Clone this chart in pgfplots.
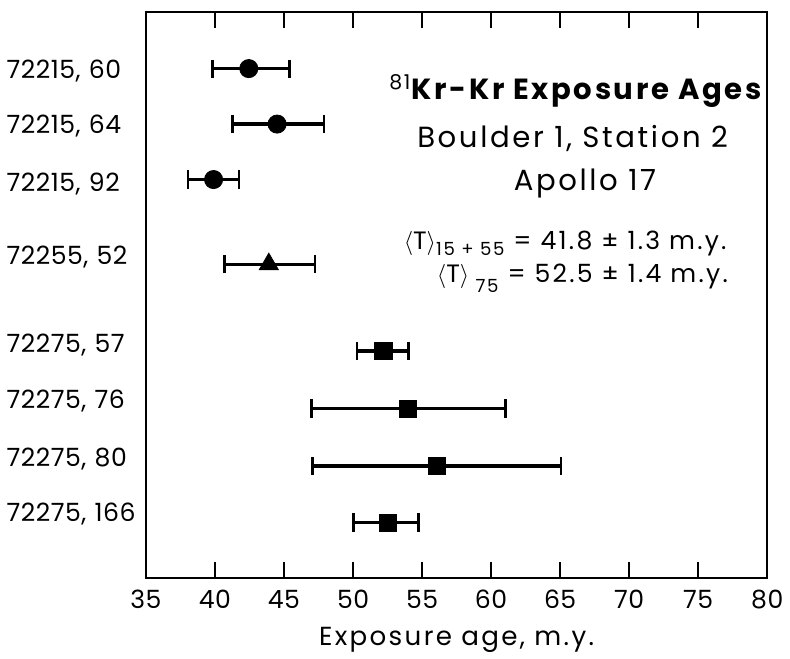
\documentclass[border=0pt]{standalone}
\usepackage{pgfplots}
\pgfplotsset{compat=1.18}
\usepackage{pgfplotstable}
\usepackage{fontspec}
\setmainfont{Poppins}[LetterSpace=9]
\newfontfamily\tickfont{Poppins}[LetterSpace=2]
\pgfplotstableread{
x y ep em
42.45 68 2.95 2.65
44.5 123 3.4 3.25
39.9 178 1.85 1.85
}\circdata
\pgfplotstableread{
x y ep em
43.9 262 3.35 3.2
}\tridata
\pgfplotstableread{
x y ep em
52.2 348 1.8 1.9
54.0 405 7.05 7.0
56.1 462 8.97 9.05
52.5 518 2.25 2.45
}\sqdata
\begin{document}
\begin{tikzpicture}
\begin{axis}[
 scale only axis, width=308bp, height=280.5bp,
 xmin=35, xmax=80, ymin=12, ymax=573, y dir=reverse,
 xtick={35,40,...,80}, xtick pos=both, xticklabel pos=bottom,
 tick align=inside, major tick length=8bp,
 x tick style={line width=0.8pt,black},
 xticklabel style={yshift=-2.5bp},
 ytick={70,125,182,255,342,398,455,510},
 yticklabels={{72215, 60},{72215, 64},{72215, 92},{72255, 52},{72275, 57},{72275, 76},{72275, 80},{72275, 166}},
 y tick style={draw=none},
 yticklabel style={text width=67bp, align=left, xshift=1.5bp},
 /pgf/number format/assume math mode=true,
 ticklabel style={font=\tickfont\fontsize{12.5}{14}\selectfont},
 xlabel={Exposure age, m.y.},
 xlabel style={font=\fontsize{13}{15}\selectfont, yshift=-2bp},
 axis line style={line width=1pt},
 clip=false,
]
\addplot[only marks, mark=*, mark size=4.5bp, black,
  error bars/.cd, x dir=both, x explicit,
  error bar style={line width=1.7pt},
  error mark options={rotate=90, mark size=4.5bp, line width=1.3pt}]
  table[x=x, y=y, x error plus=ep, x error minus=em] {\circdata};
\addplot[only marks, mark=triangle*, mark size=5.5bp, black,
  error bars/.cd, x dir=both, x explicit,
  error bar style={line width=1.7pt},
  error mark options={rotate=90, mark size=4.5bp, line width=1.3pt}]
  table[x=x, y=y, x error plus=ep, x error minus=em] {\tridata};
\addplot[only marks, mark=square*, mark size=4.25bp, black,
  error bars/.cd, x dir=both, x explicit,
  error bar style={line width=1.7pt},
  error mark options={rotate=90, mark size=4.5bp, line width=1.3pt}]
  table[x=x, y=y, x error plus=ep, x error minus=em] {\sqdata};
\node[font=\fontsize{14.5}{16}\selectfont\bfseries] at (axis cs:66.1,90) {\textsuperscript{\mdseries 81}Kr-Kr Exposure Ages};
\node[font=\fontsize{14.5}{16}\selectfont] at (axis cs:65.9,137) {Boulder 1, Station 2};
\node[font=\fontsize{14.5}{16}\selectfont] at (axis cs:66.8,182) {Apollo 17};
\node[font=\fontsize{12.5}{14}\selectfont, anchor=west, inner sep=1bp] at (axis cs:53.5,241) {$\langle$T$\rangle$\raisebox{-3bp}{\fontsize{9}{9}\selectfont 15 + 55} = 41.8 ± 1.3 m.y.};
\node[font=\fontsize{12.5}{14}\selectfont, anchor=west, inner sep=1bp] at (axis cs:55.9,276) {$\langle$T$\rangle$\raisebox{-5bp}{\fontsize{9}{9}\selectfont\ 75} = 52.5 ± 1.4 m.y.};
\end{axis}
\path (current axis.north west) ++(0,6bp) coordinate (t);
\end{tikzpicture}
\end{document}
